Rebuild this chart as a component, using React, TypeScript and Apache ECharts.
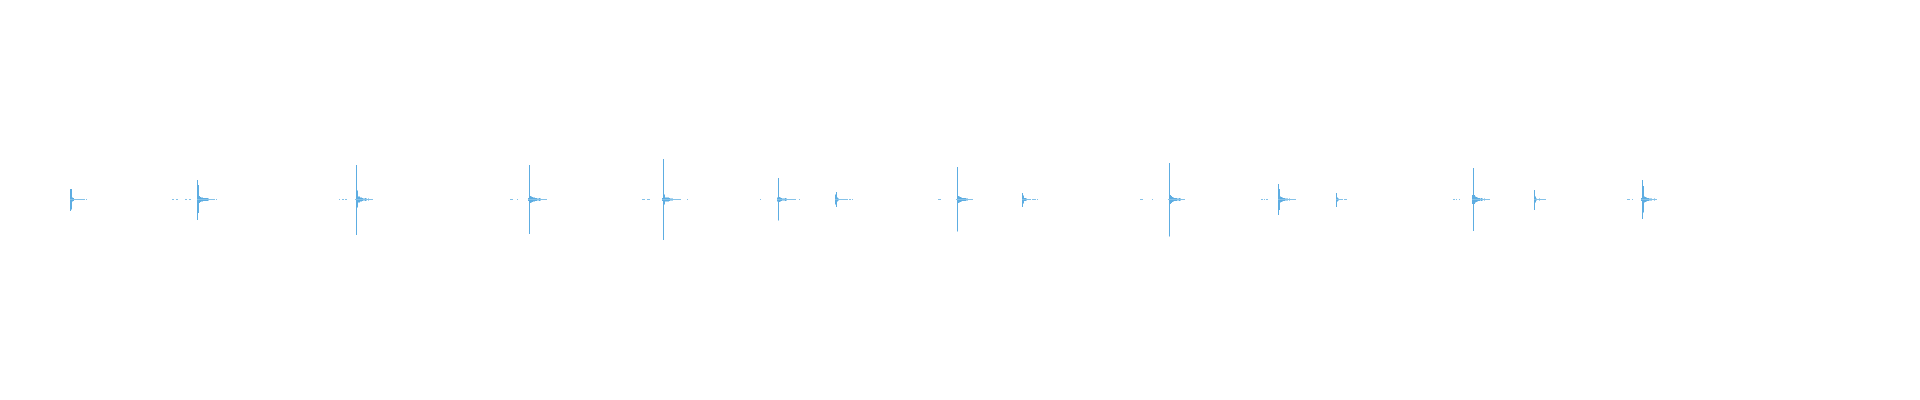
import {useEffect, useRef} from 'react';
import * as echarts from 'echarts';

// levels are in 1/200ths of full scale (axis runs -200..200)
const onsetFrames = [70, 197, 356, 529, 663, 778, 836, 957, 1022, 1169, 1278, 1336, 1473, 1534, 1642];
const leadLevel = [0, 0, 0.5, 1.5, 1.5, 2, 5, 0.5, 0, 0.5, 0, 0, 4.5, 0, 1.5];
const attackUp = [10.5, 19.5, 34.5, 34.5, 40.5, 21.5, 7.5, 32.5, 6.5, 36.5, 15.5, 6.5, 31.5, 9.5, 19.5];
const attackDown = [11.5, 20.5, 35.5, 34.5, 40.5, 21, 7.5, 32, 7.5, 37, 15.5, 7.5, 31.5, 10.5, 19.5];
const echoUp = [10.5, 14.5, 9, 3.5, 5, 2.5, 2, 3.5, 4, 4.5, 10.5, 2, 4.5, 3, 13.5];
const echoDown = [10, 13.5, 8, 3.5, 5, 2.5, 2, 3.5, 4, 4.5, 10.5, 2, 4.5, 3, 13];
const ringLevels = [
    [2, 1.5, 0.5, 0.5, 0.5, 0.5, 0.5, 0.5, 0.5, 0.5, 0.5, 0.5, 0.5, 0, 0.5],
    [3.5, 2.5, 2, 2, 1.5, 1.5, 1.5, 1.5, 1.5, 1, 0.5, 0.5, 0.5, 0.5, 0.5, 0.5, 0, 0.5],
    [3, 3, 2, 2, 1.5, 1, 1, 1.5, 1, 0.5, 1, 0.5, 0.5, 0.5, 0.5],
    [3, 2.5, 2, 2, 1.5, 1.5, 1, 1, 1.5, 1, 0.5, 0.5, 0.5, 0.5, 0.5, 0.5],
    [2, 2, 2, 2, 1.5, 1, 1, 1, 0.5, 0.5, 0.5, 0.5, 0.5, 0.5, 0.5, 0.5],
    [2, 1.5, 1, 1, 1, 1.5, 1, 0.5, 0.5, 0.5, 0.5, 0.5, 0.5, 0.5, 0.5, 0.5],
    [1, 0.5, 0.5, 0.5, 0.5, 0.5, 0.5, 0.5, 0.5, 0.5, 0, 0.5, 0.5, 0, 0.5],
    [3, 2.5, 2, 1.5, 1.5, 1.5, 1.5, 1, 1, 0.5, 0.5, 0.5, 0.5, 0.5],
    [1.5, 1.5, 1, 0.5, 0.5, 0.5, 0.5, 0, 0.5, 0.5, 0.5, 0.5, 0, 0.5],
    [3.5, 2.5, 2, 1.5, 1.5, 1.5, 1, 1, 1.5, 1, 0.5, 0.5, 0.5, 0.5],
    [3, 2.5, 2, 1.5, 1.5, 1, 1, 1, 0.5, 1, 0.5, 0.5, 0.5, 0.5, 0.5, 0.5],
    [1, 0.5, 0.5, 0.5, 0.5, 0, 0.5, 0.5, 0.5],
    [3, 2.5, 2, 1.5, 1.5, 1, 1.5, 1, 0.5, 1, 0.5, 0.5, 0.5, 0.5, 0.5],
    [1, 0.5, 0.5, 1, 0.5, 0.5, 0.5, 0.5, 0.5, 0.5],
    [3, 2.5, 2, 1.5, 1.5, 1, 1, 1, 0.5, 0.5, 1, 0.5, 0.5],
];
// isolated clicks between hits
const clickFrames = [
    172, 173, 176, 177, 185, 186, 189, 190, 339, 342, 343, 345, 346, 510, 511, 512, 517,
    642, 643, 644, 647, 648, 649, 687, 760, 799, 938, 939, 940, 1140, 1141, 1142, 1152,
    1261, 1262, 1264, 1266, 1267, 1453, 1454, 1456, 1459, 1627, 1628, 1629, 1632,
];
const clickLevel = 0.5;
const totalFrames = 1920;

const buildWave = () => {
    const up: number[][] = [];
    const down: number[][] = [];
    const add = (f: number, hi: number, lo: number) => {
        up.push([f, hi]);
        down.push([f, -lo]);
    };
    onsetFrames.forEach((onset, i) => {
        if (leadLevel[i] > 0) add(onset - 1, leadLevel[i], leadLevel[i]);
        add(onset, attackUp[i], attackDown[i]);
        add(onset + 1, echoUp[i], echoDown[i]);
        ringLevels[i].forEach((r, k) => {
            if (r > 0) add(onset + 2 + k, r, r);
        });
    });
    clickFrames.forEach((f) => add(f, clickLevel, clickLevel));
    return {up, down};
};

const Waveform = () => {
    const chartRef = useRef<HTMLDivElement>(null);

    useEffect(() => {
        const myChart = echarts.init(chartRef.current!, null, {renderer: 'svg'});
        const {up, down} = buildWave();
        const barStyle = {
            type: 'bar' as const,
            stack: 'wave',
            barWidth: 1,
            itemStyle: {color: '#5dade2'},
            silent: true,
        };
        myChart.setOption({
            animation: false,
            grid: {left: 0, right: 0, top: 0, bottom: 1},
            xAxis: {
                type: 'value',
                min: -0.5,
                max: totalFrames - 0.5,
                show: false,
            },
            yAxis: {
                type: 'value',
                min: -200,
                max: 200,
                show: false,
            },
            series: [
                {...barStyle, name: 'up', data: up},
                {...barStyle, name: 'down', data: down},
            ],
        });

        return () => {
            myChart.dispose();
        };
    }, []);

    return (
        <div
            ref={chartRef}
            style={{position: 'fixed', left: 0, top: 0, width: '1920px', height: '400px', background: '#fff'}}
        />
    );
};

export default function App() {
    return <Waveform />;
}
